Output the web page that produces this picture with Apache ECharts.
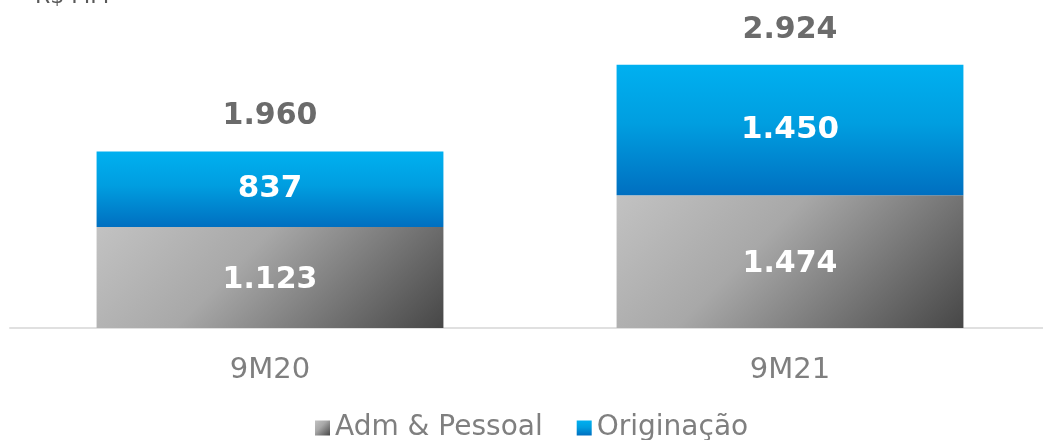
<!DOCTYPE html>
<html>
<head>
<meta charset="utf-8">
<script src="https://cdn.jsdelivr.net/npm/echarts@6/dist/echarts.min.js"></script>
<style>
  html, body { margin: 0; padding: 0; background: #fff; }
  #chart { width: 1043px; height: 440px; }
</style>
</head>
<body>
<div id="chart"></div>
<script>
    // dados
    var categorias = ['9M20', '9M21'];
    var admPessoal = [1123, 1474];
    var originacao = [837, 1450];
    var totais = [1960, 2924];

    // formato brasileiro 1.234
    function fmt(v) {
        var s = String(Math.round(v));
        return s.replace(/\B(?=(\d{3})+(?!\d))/g, '.');
    }

    var fonte = '"DejaVu Sans", sans-serif';

    // gradiente diagonal (~45 graus em pixels) para a barra cinza
    function cinza(x2, y2) {
        return new echarts.graphic.LinearGradient(0, 0, x2, y2, [
            { offset: 0, color: '#c2c2c2' },
            { offset: 0.4, color: '#a8a8a8' },
            { offset: 1, color: '#474747' }
        ]);
    }
    var cinzas = [cinza(0.65, 2.2), cinza(0.69, 1.8)];
    var azul = new echarts.graphic.LinearGradient(0, 0, 0, 1, [
        { offset: 0, color: '#00b0f0' },
        { offset: 0.45, color: '#009ee0' },
        { offset: 1, color: '#006fc0' }
    ]);

    var myChart = echarts.init(document.getElementById('chart'));
    var option = {
        animation: false,
        title: {
            text: 'R$ MM',
            left: 30,
            top: -19,
            textStyle: { color: '#595959', fontSize: 22, fontWeight: 'normal', fontFamily: fonte }
        },
        legend: {
            data: [
                { name: 'Adm & Pessoal', itemStyle: { color: cinza(1, 1) } },
                { name: 'Originação' }
            ],
            top: 409,
            left: 310,
            itemWidth: 15,
            itemHeight: 15,
            itemGap: 34,
            icon: 'rect',
            textStyle: { color: '#7f7f7f', fontSize: 28, fontFamily: fonte }
        },
        grid: {
            left: 10,
            width: 1040,
            top: 58,
            bottom: 112,
            containLabel: false,
            outerBoundsMode: 'none'
        },
        xAxis: {
            type: 'category',
            data: categorias,
            axisLine: { lineStyle: { color: '#e0e0e0', width: 2 } },
            axisTick: { show: false },
            axisLabel: { color: '#7f7f7f', fontSize: 29, fontFamily: fonte, margin: 28 }
        },
        yAxis: {
            type: 'value',
            min: 0,
            max: 3000,
            show: false,
            splitLine: { show: false }
        },
        series: [{
            name: 'Adm & Pessoal',
            type: 'bar',
            stack: 'total',
            data: admPessoal,
            barWidth: '66.7%',
            itemStyle: {
                color: function (p) { return cinzas[p.dataIndex]; }
            },
            label: {
                show: true,
                position: 'inside',
                offset: [0, 3],
                color: '#fff',
                fontSize: 30,
                fontWeight: 'bold',
                fontFamily: fonte,
                formatter: function (p) { return fmt(p.value); }
            }
        }, {
            name: 'Originação',
            type: 'bar',
            stack: 'total',
            data: originacao,
            itemStyle: { color: azul },
            label: {
                show: true,
                position: 'inside',
                color: '#fff',
                fontSize: 31,
                fontWeight: 'bold',
                fontFamily: fonte,
                formatter: function (p) { return fmt(p.value); }
            }
        }, {
            name: 'Total',
            type: 'bar',
            stack: 'total',
            data: [0, 0],
            itemStyle: { color: 'transparent' },
            label: {
                show: true,
                position: 'top',
                distance: 20,
                color: '#6b6b6b',
                fontSize: 30,
                fontWeight: 'bold',
                fontFamily: fonte,
                formatter: function (p) { return fmt(totais[p.dataIndex]); }
            }
        }]
    };
    myChart.setOption(option);
</script>
</body>
</html>
